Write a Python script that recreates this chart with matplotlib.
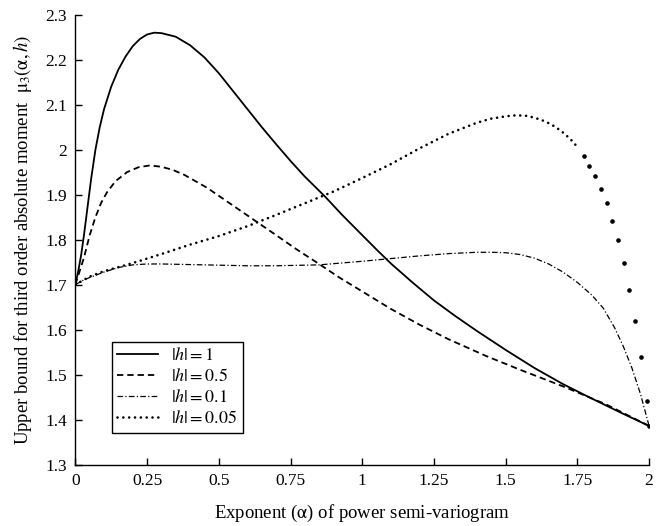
import matplotlib
matplotlib.use("Agg")
import matplotlib.pyplot as plt
from matplotlib.ticker import FuncFormatter

plt.rcParams["font.family"] = ["Liberation Serif", "DejaVu Serif"]
plt.rcParams["mathtext.fontset"] = "stix"

# |h| = 1
a_h1 = [0, 0.01, 0.02, 0.03, 0.04, 0.055, 0.07, 0.085, 0.1, 0.125, 0.15, 0.175,
        0.2, 0.225, 0.25, 0.275, 0.3, 0.35, 0.4, 0.45, 0.5, 0.55, 0.6, 0.65,
        0.7, 0.75, 0.8, 0.87, 0.93, 1.0, 1.05, 1.1, 1.175, 1.25, 1.325, 1.4,
        1.5, 1.6, 1.7, 1.8, 1.9, 2.0]
y_h1 = [1.70, 1.73, 1.765, 1.81, 1.86, 1.935, 2.0, 2.05, 2.09, 2.14, 2.178,
        2.207, 2.23, 2.246, 2.256, 2.26, 2.259, 2.251, 2.232, 2.205, 2.17, 2.13,
        2.09, 2.05, 2.012, 1.975, 1.94, 1.896, 1.855, 1.81, 1.778, 1.747, 1.705,
        1.665, 1.63, 1.597, 1.555, 1.515, 1.479, 1.447, 1.416, 1.386]

# |h| = 0.5
a_h05 = [0, 0.01, 0.02, 0.03, 0.05, 0.07, 0.09, 0.11, 0.14, 0.18, 0.22, 0.26,
         0.3, 0.34, 0.38, 0.46, 0.54, 0.62, 0.7, 0.77, 0.84, 0.92, 1.0, 1.1,
         1.2, 1.3, 1.43, 1.55, 1.7, 1.85, 2.0]
y_h05 = [1.70, 1.72, 1.74, 1.76, 1.81, 1.85, 1.882, 1.905, 1.93, 1.95, 1.961,
         1.965, 1.962, 1.955, 1.944, 1.915, 1.88, 1.845, 1.81, 1.779, 1.75,
         1.716, 1.685, 1.646, 1.611, 1.579, 1.542, 1.511, 1.474, 1.434, 1.386]

# |h| = 0.1
a_h01 = [0, 0.025, 0.05, 0.1, 0.15, 0.2, 0.25, 0.3, 0.45, 0.6, 0.7, 0.85, 1.0,
         1.1, 1.2, 1.3, 1.4, 1.45, 1.5, 1.55, 1.6, 1.65, 1.7, 1.75, 1.8, 1.84,
         1.88, 1.91, 1.94, 1.97, 2.0]
y_h01 = [1.70, 1.709, 1.716, 1.728, 1.738, 1.744, 1.746, 1.746, 1.744, 1.742,
         1.742, 1.744, 1.752, 1.758, 1.764, 1.769, 1.772, 1.772, 1.771, 1.767,
         1.759, 1.746, 1.728, 1.705, 1.677, 1.648, 1.604, 1.563, 1.515, 1.457,
         1.386]

# |h| = 0.05 (smooth part, then the sparse dots of the steep tail)
a_h005 = [0, 0.05, 0.1, 0.2, 0.3, 0.4, 0.5, 0.6, 0.7, 0.8, 0.9, 1.0, 1.1, 1.2,
          1.3, 1.4, 1.45, 1.5, 1.525, 1.55, 1.575, 1.6, 1.625, 1.65, 1.675,
          1.7, 1.725, 1.75]
y_h005 = [1.70, 1.718, 1.73, 1.748, 1.768, 1.789, 1.808, 1.830, 1.855, 1.881,
          1.907, 1.937, 1.968, 2.003, 2.035, 2.060, 2.069, 2.074, 2.076, 2.076,
          2.075, 2.071, 2.066, 2.059, 2.050, 2.038, 2.024, 2.006]
a_tail = [1.772, 1.792, 1.812, 1.832, 1.852, 1.872, 1.892, 1.912, 1.931, 1.952,
          1.972, 1.992, 2.0]
y_tail = [1.986, 1.964, 1.942, 1.913, 1.881, 1.842, 1.799, 1.748, 1.688, 1.619,
          1.539, 1.442, 1.385]

fig = plt.figure(figsize=(6.61, 5.26), dpi=100)
ax = fig.add_axes([0.114, 0.1166, 0.868, 0.8555])

ax.plot(a_h1, y_h1, color="black", lw=1.3, label=r"$|h| = 1$")
ax.plot(a_h05, y_h05, color="black", lw=1.3, dashes=(3.5, 2.2),
        label=r"$|h| = 0.5$")
ax.plot(a_h01, y_h01, color="black", lw=0.9, dashes=(4.5, 1.8, 1, 1.8),
        label=r"$|h| = 0.1$")
ax.plot(a_h005, y_h005, color="black", lw=1.9, dashes=(0.01, 2.2),
        dash_capstyle="round", label=r"$|h| = 0.05$")
ax.plot(a_tail, y_tail, "o", color="black", ms=2.3)

ax.set_xlim(0, 2)
ax.set_ylim(1.3, 2.3)
ax.set_xticks([0, 0.25, 0.5, 0.75, 1, 1.25, 1.5, 1.75, 2])
ax.set_yticks([1.3, 1.4, 1.5, 1.6, 1.7, 1.8, 1.9, 2.0, 2.1, 2.2, 2.3])
ax.xaxis.set_major_formatter(FuncFormatter(lambda v, p: f"{v:g}"))
ax.yaxis.set_major_formatter(FuncFormatter(lambda v, p: f"{v:g}"))
ax.tick_params(direction="in", length=5, width=1, labelsize=12.5, pad=6)

for s in ["top", "right"]:
    ax.spines[s].set_visible(False)
for s in ["left", "bottom"]:
    ax.spines[s].set_linewidth(1)

ax.set_xlabel(r"Exponent ($\mathrm{\alpha}$) of power semi-variogram",
              fontsize=13.5, labelpad=10)
ax.set_ylabel(r"Upper bound for third order absolute moment  "
              r"$\mathrm{\mu}_3(\mathrm{\alpha},h)$", fontsize=13.5, labelpad=8)

leg = ax.legend(loc="lower left", bbox_to_anchor=(0.063, 0.071),
                borderaxespad=0, fancybox=False, edgecolor="black",
                fontsize=13, handlelength=2.3, labelspacing=0.22,
                borderpad=0.3, handletextpad=0.7, framealpha=1)
leg.get_frame().set_linewidth(1)

fig.savefig("out.png", dpi=100)
